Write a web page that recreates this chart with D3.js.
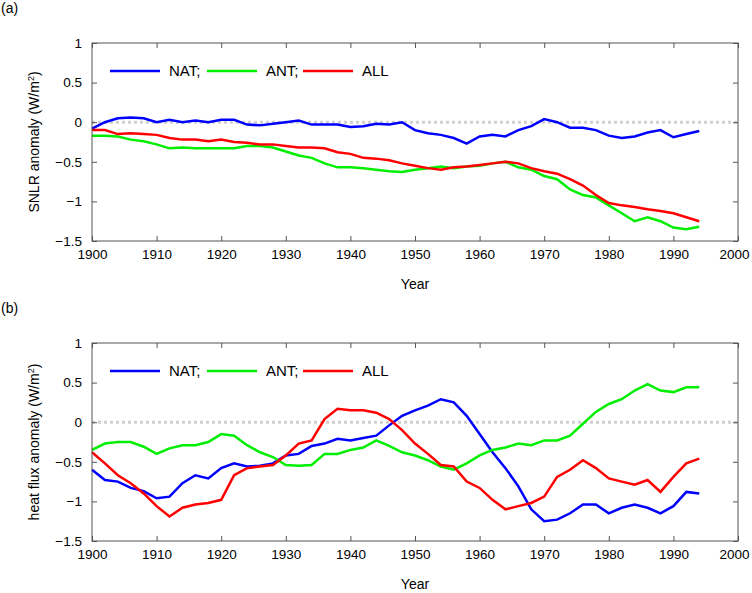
<!DOCTYPE html>
<html>
<head>
<meta charset="utf-8">
<script src="https://cdn.jsdelivr.net/npm/d3@7"></script>
<style>
body { margin: 0; background: #fff; font-family: "Liberation Sans", Arial, sans-serif; }
</style>
</head>
<body>
<div id="viz"></div>
<script>
// years every 2 years, 1900..1994
var years = d3.range(1900, 1995, 2);

var natA = [-0.08,0.0,0.05,0.06,0.05,0.0,0.03,0.0,0.02,0.0,0.03,0.03,-0.03,-0.04,-0.02,0.0,0.02,-0.03,-0.03,-0.03,-0.06,-0.05,-0.02,-0.03,0.0,-0.1,-0.14,-0.16,-0.2,-0.27,-0.18,-0.16,-0.18,-0.1,-0.05,0.04,0.0,-0.07,-0.07,-0.1,-0.17,-0.2,-0.18,-0.13,-0.1,-0.19,-0.15,-0.11];
var antA = [-0.17,-0.17,-0.18,-0.22,-0.24,-0.28,-0.33,-0.32,-0.33,-0.33,-0.33,-0.33,-0.3,-0.3,-0.32,-0.37,-0.42,-0.45,-0.52,-0.57,-0.57,-0.58,-0.6,-0.62,-0.63,-0.6,-0.58,-0.56,-0.58,-0.56,-0.55,-0.52,-0.5,-0.57,-0.6,-0.68,-0.72,-0.85,-0.92,-0.95,-1.05,-1.15,-1.25,-1.2,-1.25,-1.33,-1.35,-1.32];
var allA = [-0.1,-0.1,-0.15,-0.14,-0.15,-0.16,-0.2,-0.22,-0.22,-0.24,-0.22,-0.25,-0.26,-0.28,-0.28,-0.3,-0.32,-0.32,-0.33,-0.38,-0.4,-0.45,-0.46,-0.48,-0.52,-0.55,-0.58,-0.6,-0.57,-0.56,-0.54,-0.52,-0.5,-0.52,-0.58,-0.62,-0.65,-0.72,-0.8,-0.92,-1.02,-1.05,-1.07,-1.1,-1.12,-1.15,-1.2,-1.25];

var natB = [-0.6,-0.73,-0.75,-0.83,-0.87,-0.96,-0.94,-0.77,-0.67,-0.71,-0.58,-0.52,-0.56,-0.55,-0.52,-0.42,-0.4,-0.3,-0.27,-0.21,-0.23,-0.2,-0.17,-0.04,0.08,0.15,0.21,0.29,0.25,0.08,-0.15,-0.38,-0.58,-0.81,-1.1,-1.25,-1.23,-1.15,-1.04,-1.04,-1.15,-1.08,-1.04,-1.08,-1.15,-1.06,-0.88,-0.9];
var antB = [-0.35,-0.27,-0.25,-0.25,-0.31,-0.4,-0.33,-0.29,-0.29,-0.25,-0.15,-0.17,-0.29,-0.38,-0.44,-0.54,-0.55,-0.54,-0.4,-0.4,-0.35,-0.32,-0.23,-0.3,-0.38,-0.42,-0.48,-0.56,-0.6,-0.52,-0.42,-0.35,-0.32,-0.27,-0.29,-0.23,-0.23,-0.17,-0.02,0.13,0.23,0.29,0.4,0.48,0.4,0.38,0.44,0.44];
var allB = [-0.38,-0.52,-0.67,-0.77,-0.9,-1.06,-1.19,-1.08,-1.04,-1.02,-0.98,-0.67,-0.58,-0.56,-0.54,-0.42,-0.27,-0.23,0.04,0.17,0.15,0.15,0.12,0.04,-0.1,-0.27,-0.4,-0.54,-0.56,-0.75,-0.83,-0.98,-1.1,-1.06,-1.02,-0.94,-0.69,-0.6,-0.48,-0.58,-0.71,-0.75,-0.79,-0.73,-0.88,-0.69,-0.52,-0.46];

var xTicks = d3.range(1900, 2001, 10);
var yTicks = [1, 0.5, 0, -0.5, -1, -1.5];
var seriesNames = ["NAT;", "ANT;", "ALL"];
var colors = ["#0000ff", "#00ee00", "#ff0000"];

var svg = d3.select("#viz").append("svg")
    .attr("width", 752)
    .attr("height", 593);

function panel(top, tag, ylabel, data) {
  var x = d3.scaleLinear().domain([1900, 2000]).range([92, 738]);
  var y = d3.scaleLinear().domain([-1.5, 1]).range([top + 198, top]);
  var g = svg.append("g");

  g.append("text").attr("x", 1).attr("y", top - 30).attr("font-size", 14).text(tag);

  // zero line
  g.append("line")
    .attr("x1", x(1900)).attr("x2", x(2000))
    .attr("y1", y(0)).attr("y2", y(0))
    .attr("stroke", "#d0d0d0").attr("stroke-width", 3)
    .attr("stroke-dasharray", "3,3");

  var line = d3.line().x(function(d, i) { return x(years[i]); }).y(function(d) { return y(d); });
  data.forEach(function(s, k) {
    g.append("path").datum(s)
      .attr("d", line)
      .attr("fill", "none")
      .attr("stroke", colors[k])
      .attr("stroke-width", 2.5);
  });

  // frame
  g.append("rect").attr("x", 92).attr("y", top).attr("width", 646).attr("height", 198)
    .attr("fill", "none").attr("stroke", "#555").attr("stroke-width", 1);

  g.append("g").attr("transform", "translate(0," + (top + 198) + ")")
    .call(d3.axisBottom(x).tickValues(xTicks).tickFormat(d3.format("d")).tickSizeInner(-5).tickSizeOuter(0).tickPadding(8));
  g.append("g").attr("transform", "translate(0," + top + ")")
    .call(d3.axisTop(x).tickValues(xTicks).tickFormat("").tickSizeInner(-5).tickSizeOuter(0));
  g.append("g").attr("transform", "translate(92,0)")
    .call(d3.axisLeft(y).tickValues(yTicks).tickFormat(d3.format("")).tickSizeInner(-5).tickSizeOuter(0).tickPadding(10));
  g.append("g").attr("transform", "translate(738,0)")
    .call(d3.axisRight(y).tickValues(yTicks).tickFormat("").tickSizeInner(-5).tickSizeOuter(0));
  g.selectAll(".domain").remove();
  g.selectAll(".tick line").attr("stroke", "#555");
  g.selectAll(".tick text").attr("font-size", 13.5).attr("fill", "#000")
    .attr("font-family", "Liberation Sans, Arial, sans-serif");
  // keep the last year label inside the window
  g.selectAll(".tick text").filter(function(d) { return d === 2000; }).attr("dx", -4);

  g.append("text").attr("x", 415).attr("y", top + 246).attr("text-anchor", "middle")
    .attr("font-size", 14).text("Year");

  var yl = g.append("text")
    .attr("transform", "translate(39," + (top + 99) + ") rotate(-90)")
    .attr("text-anchor", "middle").attr("font-size", 14);
  yl.append("tspan").text(ylabel + " (W/m");
  yl.append("tspan").attr("dy", -5).attr("font-size", 9).text("2");
  yl.append("tspan").attr("dy", 5).text(")");

  var lx = [110, 207, 303];
  seriesNames.forEach(function(n, k) {
    g.append("line").attr("x1", lx[k]).attr("x2", lx[k] + 50)
      .attr("y1", top + 28).attr("y2", top + 28)
      .attr("stroke", colors[k]).attr("stroke-width", 2.5);
    g.append("text").attr("x", lx[k] + 59).attr("y", top + 33)
      .attr("font-size", 15).text(n);
  });
}

panel(43, "(a)", "SNLR anomaly", [natA, antA, allA]);
panel(343, "(b)", "heat flux anomaly", [natB, antB, allB]);
</script>
</body>
</html>
